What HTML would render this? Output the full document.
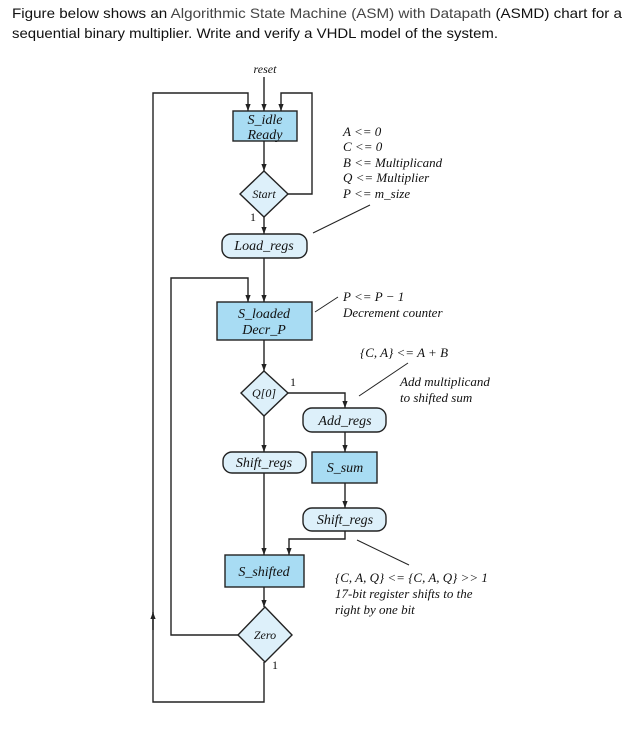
<!DOCTYPE html>
<html><head><meta charset="utf-8"><style>
html,body{margin:0;padding:0;background:#fff;width:635px;height:733px;overflow:hidden}
svg{display:block}
.t{font-family:"Liberation Serif",serif;font-style:italic;font-size:14px;fill:#111}
.n{font-size:13px}
.h{font-family:"Liberation Sans",sans-serif;font-size:14px;fill:#111}
</style></head><body>
<svg width="635" height="733" viewBox="0 0 635 733" xmlns="http://www.w3.org/2000/svg">
<defs>
<marker id="d" viewBox="0 0 8 8" markerWidth="7" markerHeight="7" refX="8" refY="4" orient="auto" markerUnits="userSpaceOnUse"><path d="M0,1 L8,4 L0,7 Z" fill="#222"/></marker></defs>
<text class="h" x="12" y="18" textLength="610" lengthAdjust="spacingAndGlyphs">Figure below shows an <tspan fill="#444">Algorithmic State Machine (ASM) with Datapath</tspan> (ASMD) chart for a</text>
<text class="h" x="12" y="38" textLength="486" lengthAdjust="spacingAndGlyphs">sequential binary multiplier. Write and verify a VHDL model of the system.</text>

<g stroke="#222" stroke-width="1.4" fill="none">
<line x1="264" y1="77" x2="264" y2="111" marker-end="url(#d)"/>
<polyline points="264,662 264,702 153,702 153,93 248,93 248,111" marker-end="url(#d)"/>
<line x1="153" y1="630" x2="153" y2="612" marker-end="url(#d)"/>
<polyline points="288,194 312,194 312,93 281,93 281,111" marker-end="url(#d)"/>
<line x1="264" y1="141" x2="264" y2="171" marker-end="url(#d)"/>
<line x1="264" y1="217" x2="264" y2="234" marker-end="url(#d)"/>
<line x1="264" y1="258" x2="264" y2="302" marker-end="url(#d)"/>
<polyline points="238,635 171,635 171,278 248,278 248,302" marker-end="url(#d)"/>
<line x1="264" y1="340" x2="264" y2="371" marker-end="url(#d)"/>
<polyline points="288,393 345,393 345,408" marker-end="url(#d)"/>
<line x1="264" y1="416" x2="264" y2="452" marker-end="url(#d)"/>
<line x1="345" y1="432" x2="345" y2="452" marker-end="url(#d)"/>
<line x1="345" y1="483" x2="345" y2="508" marker-end="url(#d)"/>
<polyline points="345,531 345,539 289,539 289,555" marker-end="url(#d)"/>
<line x1="264" y1="473" x2="264" y2="555" marker-end="url(#d)"/>
<line x1="264" y1="587" x2="264" y2="607" marker-end="url(#d)"/>
<line x1="313" y1="233" x2="370" y2="205" stroke-width="1"/>
<line x1="315" y1="312" x2="338" y2="297" stroke-width="1"/>
<line x1="359" y1="396" x2="408" y2="363" stroke-width="1"/>
<line x1="357" y1="540" x2="409" y2="565" stroke-width="1"/>
</g>
<g stroke="#222" stroke-width="1.4">
<rect x="233" y="111" width="64" height="30" fill="#a8dcf3"/>
<rect x="217" y="302" width="95" height="38" fill="#a8dcf3"/>
<rect x="312" y="452" width="65" height="31" fill="#a8dcf3"/>
<rect x="225" y="555" width="79" height="32" fill="#a8dcf3"/>
<polygon points="264,171 288,194 264,217 240,194" fill="#ddf0fa"/>
<polygon points="264,371 288,393 264,416 241,393" fill="#ddf0fa"/>
<polygon points="265,607 292,635 265,662 238,635" fill="#ddf0fa"/>
<rect x="222" y="234" width="85" height="24" rx="9" fill="#ddf0fa"/>
<rect x="303" y="408" width="83" height="24" rx="9" fill="#ddf0fa"/>
<rect x="223" y="452" width="83" height="21" rx="9" fill="#ddf0fa"/>
<rect x="303" y="508" width="83" height="23" rx="9" fill="#ddf0fa"/>
</g>
<g class="t">
<text x="265" y="73" text-anchor="middle" font-size="12">reset</text>
<text x="265" y="124" text-anchor="middle">S_idle</text>
<text x="265" y="139" text-anchor="middle">Ready</text>
<text x="264" y="198" text-anchor="middle" font-size="12">Start</text>
<text x="250" y="221" font-style="normal" font-size="12">1</text>
<text x="264" y="250" text-anchor="middle">Load_regs</text>
<text x="264" y="318" text-anchor="middle">S_loaded</text>
<text x="264" y="334" text-anchor="middle">Decr_P</text>
<text x="264" y="397" text-anchor="middle" font-size="12">Q[0]</text>
<text x="290" y="386" font-style="normal" font-size="12">1</text>
<text x="345" y="425" text-anchor="middle">Add_regs</text>
<text x="264" y="467" text-anchor="middle">Shift_regs</text>
<text x="345" y="472" text-anchor="middle">S_sum</text>
<text x="345" y="524" text-anchor="middle">Shift_regs</text>
<text x="264" y="576" text-anchor="middle">S_shifted</text>
<text x="265" y="639" text-anchor="middle" font-size="12">Zero</text>
<text x="272" y="669" font-style="normal" font-size="12">1</text>
<text class="n" x="343" y="136">A &lt;= 0</text>
<text class="n" x="343" y="151">C &lt;= 0</text>
<text class="n" x="343" y="167">B &lt;= Multiplicand</text>
<text class="n" x="343" y="182">Q &lt;= Multiplier</text>
<text class="n" x="343" y="198">P &lt;= m_size</text>
<text class="n" x="343" y="301">P &lt;= P − 1</text>
<text class="n" x="343" y="317">Decrement counter</text>
<text class="n" x="360" y="357">{C, A} &lt;= A + B</text>
<text class="n" x="400" y="386">Add multiplicand</text>
<text class="n" x="400" y="402">to shifted sum</text>
<text class="n" x="335" y="582">{C, A, Q} &lt;= {C, A, Q} &gt;&gt; 1</text>
<text class="n" x="335" y="598">17-bit register shifts to the</text>
<text class="n" x="335" y="614">right by one bit</text>
</g>
</svg>
</body></html>
